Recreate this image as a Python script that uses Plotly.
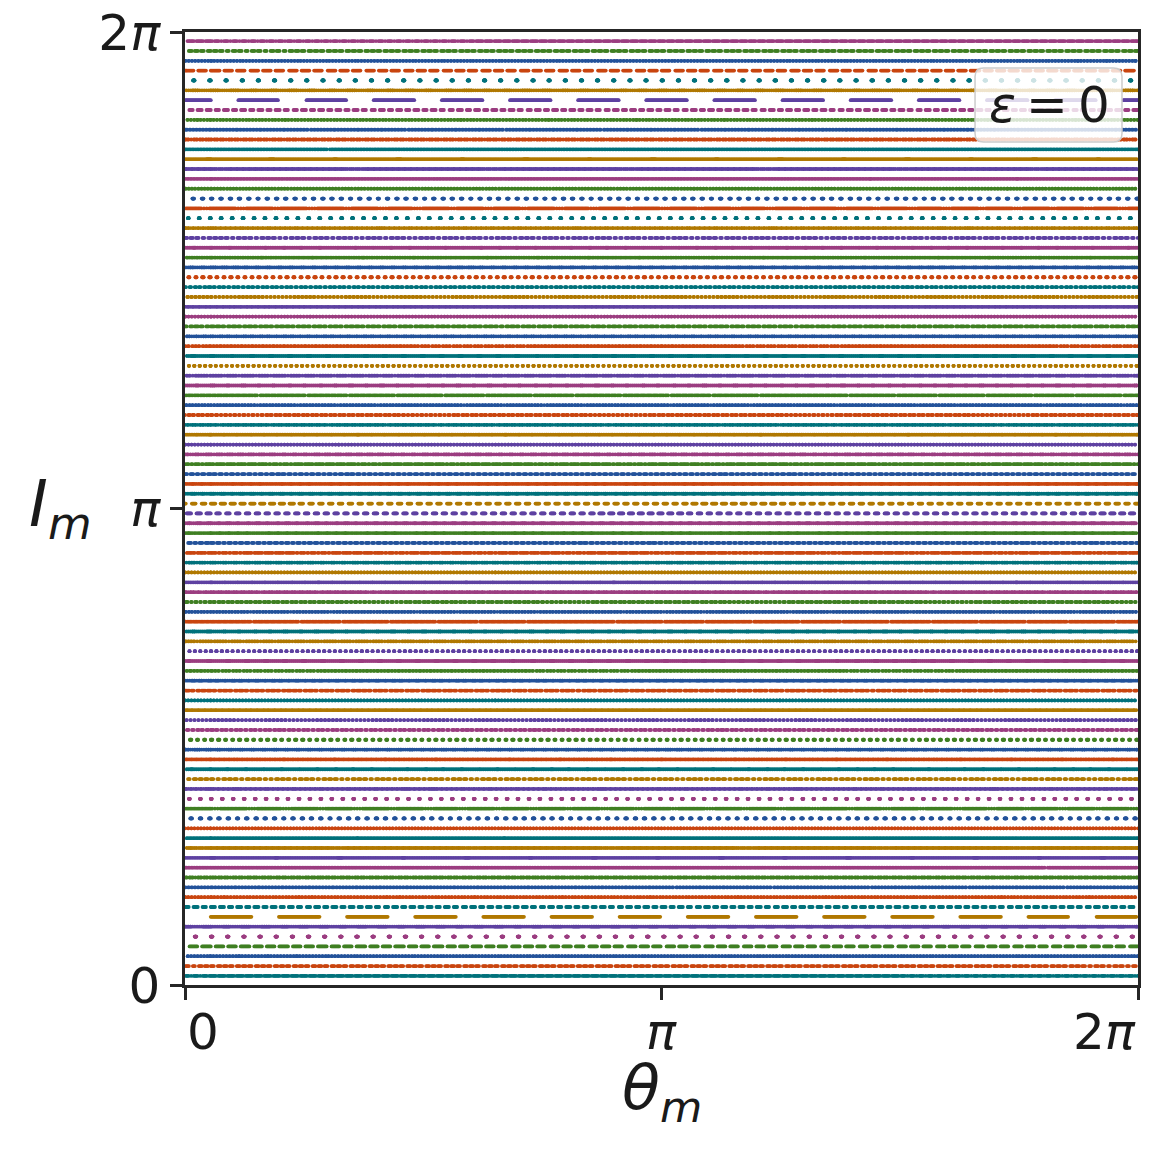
import numpy as np
import plotly.graph_objects as go

# Momentum levels I_m of the 96 orbits (bottom to top)
I_LEVELS = [
    0.060000, 0.124876, 0.189751, 0.254627, 0.319503, 0.384378, 0.449254, 0.514129,
    0.579005, 0.643881, 0.708756, 0.773632, 0.838508, 0.903383, 0.968259, 1.033135,
    1.098010, 1.162886, 1.227761, 1.292637, 1.357513, 1.422388, 1.487264, 1.552140,
    1.617015, 1.681891, 1.746767, 1.811642, 1.876518, 1.941393, 2.006269, 2.071145,
    2.136020, 2.200896, 2.265772, 2.330647, 2.395523, 2.460399, 2.525274, 2.590150,
    2.655025, 2.719901, 2.784777, 2.849652, 2.914528, 2.979404, 3.044279, 3.109155,
    3.174031, 3.238906, 3.303782, 3.368657, 3.433533, 3.498409, 3.563284, 3.628160,
    3.693036, 3.757911, 3.822787, 3.887663, 3.952538, 4.017414, 4.082289, 4.147165,
    4.212041, 4.276916, 4.341792, 4.406668, 4.471543, 4.536419, 4.601295, 4.666170,
    4.731046, 4.795921, 4.860797, 4.925673, 4.990548, 5.055424, 5.120300, 5.185175,
    5.250051, 5.314927, 5.379802, 5.444678, 5.509553, 5.574429, 5.639305, 5.704180,
    5.769056, 5.833932, 5.898807, 5.963683, 6.028559, 6.093434, 6.158310, 6.223185,
]
THETA0 = 0.17          # starting angle of every orbit
N_ITER = 600           # iterations per orbit
EPSILON = 0.0          # kick strength of the standard map

PALETTE = ["#00717b", "#c9450f", "#23529a", "#3f7f22", "#9b3d80", "#5e41a1", "#b07800"]

TICK_VALS = [0.0, np.pi, 2 * np.pi]
TICK_TEXT = ["0", "<i>π</i>", "2<i>π</i>"]

TWO_PI = 2 * np.pi
FONT = "DejaVu Sans"
INK = "#1a1a1a"

fig = go.Figure()
for k, I0 in enumerate(I_LEVELS):
    th = np.empty(N_ITER)
    ii = np.empty(N_ITER)
    t, I = THETA0, I0
    for n in range(N_ITER):
        th[n], ii[n] = t, I
        I = (I + EPSILON * np.sin(t)) % TWO_PI
        t = (t + I) % TWO_PI
    fig.add_trace(go.Scatter(
        x=th, y=ii, mode="markers",
        marker=dict(size=3.8, color=PALETTE[k % len(PALETTE)], line=dict(width=0)),
        showlegend=False, hoverinfo="skip",
    ))

axis_common = dict(
    range=[0, TWO_PI], showgrid=False, zeroline=False, automargin=False,
    showline=True, mirror=True, linecolor="#262626", linewidth=2.5,
    ticks="outside", ticklen=12, tickwidth=2.5, tickcolor="#262626",
)
fig.update_xaxes(**axis_common, tickvals=TICK_VALS, showticklabels=False)
fig.update_yaxes(**axis_common, tickvals=TICK_VALS, ticktext=TICK_TEXT,
                 ticklabeloverflow="allow",
                 tickfont=dict(family=FONT, size=50, color=INK))

ann = []
anchors = ["left", "center", "right"]
for v, txt, a in zip(TICK_VALS, TICK_TEXT, anchors):
    ann.append(dict(x=v, y=0, xref="x", yref="paper", text=txt, showarrow=False,
                    xanchor=a, yanchor="top", yshift=-16,
                    font=dict(family=FONT, size=50, color=INK)))
ann.append(dict(x=0.5, y=-0.112, xref="paper", yref="paper",
                text="<i>θ</i><sub><i>m</i></sub>", showarrow=False,
                xanchor="center", yanchor="middle",
                font=dict(family=FONT, size=62, color=INK)))
ann.append(dict(x=-0.131, y=0.5, xref="paper", yref="paper",
                text="<i>I</i><sub><i>m</i></sub>", showarrow=False,
                xanchor="center", yanchor="middle",
                font=dict(family=FONT, size=64, color=INK)))
ann.append(dict(x=0.9075, y=0.9234, xref="paper", yref="paper",
                text="<i>ε</i>\u2009=\u20090", showarrow=False,
                xanchor="center", yanchor="middle",
                font=dict(family=FONT, size=50, color=INK)))

x0, x1, y0, y1, r = 0.829, 0.9832, 0.9622, 0.8846, 0.009
path = (f"M {x0+r},{y0} L {x1-r},{y0} Q {x1},{y0} {x1},{y0-r} "
        f"L {x1},{y1+r} Q {x1},{y1} {x1-r},{y1} L {x0+r},{y1} "
        f"Q {x0},{y1} {x0},{y1+r} L {x0},{y0-r} Q {x0},{y0} {x0+r},{y0} Z")

fig.update_layout(
    width=1140, height=1140,
    margin=dict(l=177, r=10, t=24, b=163, autoexpand=False),
    paper_bgcolor="white", plot_bgcolor="white",
    annotations=ann,
    shapes=[dict(type="path", path=path, xref="paper", yref="paper",
                 fillcolor="rgba(255,255,255,0.8)", line=dict(color="#cccccc", width=1.5),
                 layer="above")],
)

fig.write_html("out.html")
